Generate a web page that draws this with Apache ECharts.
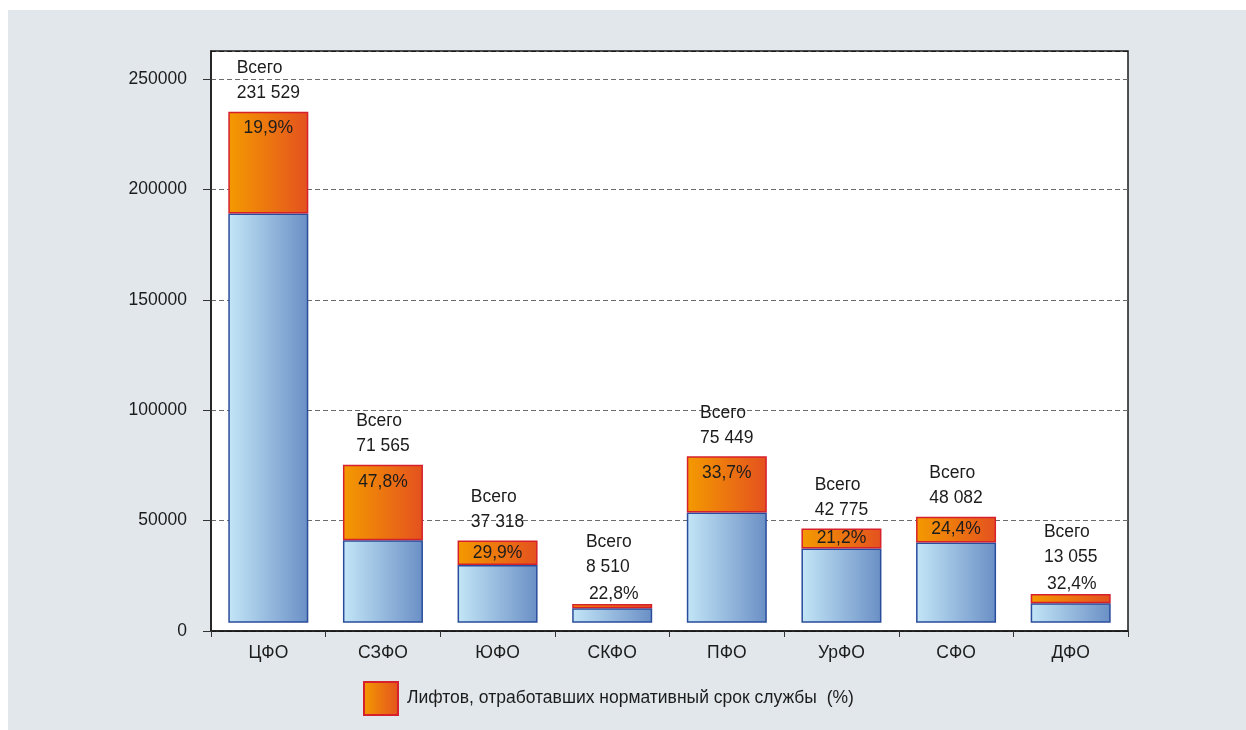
<!DOCTYPE html>
<html lang="ru">
<head>
<meta charset="utf-8">
<title>Лифты по федеральным округам</title>
<script src="https://cdn.jsdelivr.net/npm/echarts@6/dist/echarts.min.js"></script>
<style>
  html, body { margin: 0; padding: 0; background: #ffffff; }
  #panel { position: absolute; left: 8px; top: 10px; right: 0; bottom: 0; background: #e2e7eb; }
  #chart { position: absolute; left: 0; top: 0; width: 1246px; height: 730px; }
</style>
</head>
<body>
<div id="panel"></div>
<div id="chart"></div>
<script>
// Federal districts
const categories = ['ЦФО', 'СЗФО', 'ЮФО', 'СКФО', 'ПФО', 'УрФО', 'СФО', 'ДФО'];
// Total number of lifts per district
const totals = [231529, 71565, 37318, 8510, 75449, 42775, 48082, 13055];
// Share of lifts past their standard service life, %
const wornShare = [19.9, 47.8, 29.9, 22.8, 33.7, 21.2, 24.4, 32.4];
// Value axis
const yMin = 0;
const yMax = 262700;
const yStep = 50000;

const legendName = 'Лифтов, отработавших нормативный срок службы  (%)';
const FONT = "'Liberation Sans', Arial, sans-serif";
const FS = 17.5;
const TEXT = '#1c1c1c';

// bars stand on a thin floor above the zero line
const FLOOR = 3700;

const worn = totals.map((t, i) => Math.round(t * wornShare[i] / 100));
const rest = totals.map((t, i) => t - worn[i]);

const fmtInt = v => String(v).replace(/\B(?=(\d{3})+(?!\d))/g, ' ');
const fmtPct = v => v.toFixed(1).replace('.', ',') + '%';

// segments too thin for an inside label get their share written above the bar
const isThin = i => worn[i] < 7000;

const blueFill = new echarts.graphic.LinearGradient(0, 0, 1, 0, [
  { offset: 0, color: '#c3e6f7' },
  { offset: 1, color: '#6a8fc5' }
]);
const orangeFill = new echarts.graphic.LinearGradient(0, 0, 1, 0, [
  { offset: 0, color: '#f49a00' },
  { offset: 1, color: '#e4511f' }
]);

const chart = echarts.init(document.getElementById('chart'), null, { renderer: 'canvas' });

const option = {
  backgroundColor: 'transparent',
  animation: false,
  textStyle: { fontFamily: FONT, color: TEXT },
  grid: {
    left: 211, right: 118, top: 51, bottom: 99,
    show: true,
    backgroundColor: '#ffffff',
    borderColor: '#1a1a1a',
    borderWidth: 1.5
  },
  legend: {
    data: [legendName],
    left: 363,
    top: 681,
    padding: 0,
    itemWidth: 34,
    itemHeight: 33,
    icon: 'rect',
    selectedMode: false,
    textStyle: { fontFamily: FONT, fontSize: FS, color: TEXT, padding: [0, 0, 0, 4] }
  },
  xAxis: {
    type: 'category',
    data: categories,
    axisLine: { show: true, lineStyle: { color: '#1a1a1a', width: 1.5 } },
    axisTick: { show: true, alignWithLabel: false, length: 6, lineStyle: { color: '#333' } },
    axisLabel: { margin: 13, fontSize: FS, color: TEXT, fontFamily: FONT },
    splitLine: { show: false }
  },
  yAxis: {
    type: 'value',
    min: yMin,
    max: yMax,
    interval: yStep,
    axisLine: { show: true, lineStyle: { color: '#1a1a1a', width: 1.5 } },
    axisTick: { show: true, length: 8, lineStyle: { color: '#333' } },
    axisLabel: {
      margin: 24, fontSize: FS, color: TEXT, fontFamily: FONT, showMaxLabel: false,
      formatter: v => String(v)
    },
    splitLine: {
      show: true,
      lineStyle: {
        type: [5, 3],
        width: 1,
        color: ['#1a1a1a', '#6b6b6b', '#6b6b6b', '#6b6b6b', '#6b6b6b', '#6b6b6b', '#1a1a1a']
      }
    }
  },
  series: [
    {
      name: 'floor',
      type: 'bar',
      stack: 'lifts',
      barWidth: 80,
      silent: true,
      itemStyle: { color: 'rgba(0,0,0,0)' },
      data: categories.map(() => FLOOR)
    },
    {
      name: 'Прочие',
      type: 'bar',
      stack: 'lifts',
      barWidth: 80,
      itemStyle: { color: blueFill, borderColor: '#2a4c9c', borderWidth: 1.5 },
      data: rest
    },
    {
      name: legendName,
      type: 'bar',
      stack: 'lifts',
      barWidth: 80,
      itemStyle: { color: orangeFill, borderColor: '#d6202c', borderWidth: 1.5 },
      data: worn.map((v, i) => ({
        value: v,
        label: {
          show: !isThin(i),
          position: v > 18000 ? 'insideTop' : 'inside',
          distance: 8,
          formatter: () => fmtPct(wornShare[i]),
          fontSize: FS,
          fontFamily: FONT,
          color: TEXT
        }
      }))
    },
    {
      name: 'Всего',
      type: 'bar',
      stack: 'lifts',
      barWidth: 80,
      silent: true,
      itemStyle: { color: 'rgba(0,0,0,0)', borderWidth: 0 },
      data: totals.map((t, i) => ({
        value: 0,
        label: {
          show: true,
          position: 'top',
          distance: isThin(i) ? -4 : 6,
          formatter: () => {
            let s = '{a|Всего}\n{a|' + fmtInt(t) + '}';
            if (isThin(i)) s += '\n{p|' + fmtPct(wornShare[i]) + '}';
            return s;
          },
          rich: {
            a: { align: 'left', fontSize: FS, lineHeight: 25, fontFamily: FONT, color: TEXT },
            p: { align: 'left', fontSize: FS, lineHeight: 28, fontFamily: FONT, color: TEXT, padding: [0, 0, 0, 3] }
          }
        }
      }))
    }
  ]
};

chart.setOption(option);
</script>
</body>
</html>
